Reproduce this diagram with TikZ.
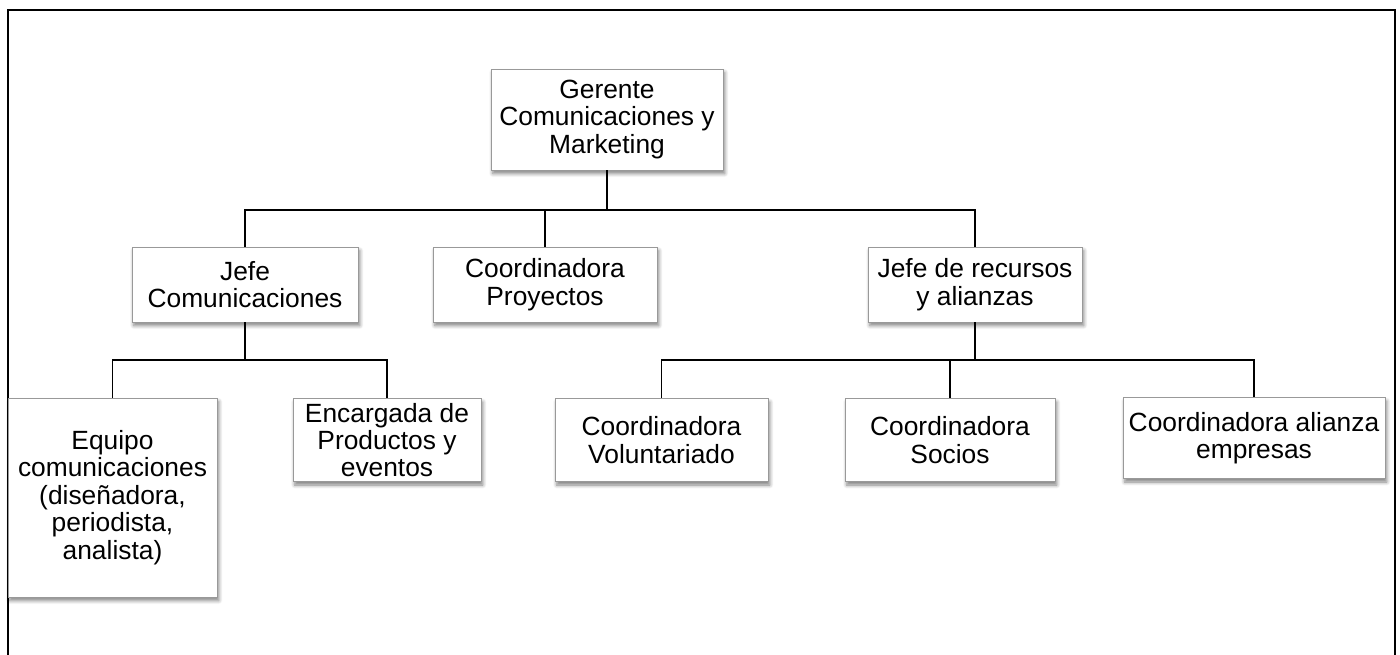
\documentclass[tikz,border=0pt]{standalone}
\usepackage{fontspec}
\setmainfont{Liberation Sans}
\usepackage{tikz}
\usetikzlibrary{shadows.blur}
\tikzset{
	cargo/.style={draw=gray!80, line width=0.5pt, fill=white, align=center, inner sep=1pt,
		font=\fontsize{15}{15.6}\selectfont,
		blur shadow={shadow xshift=1pt, shadow yshift=-2pt, shadow blur steps=6, shadow opacity=50}},
	linea/.style={draw=black, line width=1.1pt}
}

\begin{document}
\begin{tikzpicture}[x=0.02cm, y=-0.02cm]
	\useasboundingbox (0,0) rectangle (1400,654);
	\draw[linea] (8,660) -- (8,10) -- (1395,10) -- (1395,660);
	% primer nivel
	\node[cargo, minimum width=4.64cm, minimum height=2.02cm] (gerente) at (607,119.5) {Gerente\\Comunicaciones y\\Marketing};
	% segundo nivel
	\node[cargo, minimum width=4.52cm, minimum height=1.5cm] (jefecom) at (245,284.5) {Jefe\\Comunicaciones};
	\node[cargo, minimum width=4.48cm, minimum height=1.5cm] (proyectos) at (545,284.5) {Coordinadora\\Proyectos};
	\node[cargo, minimum width=4.28cm, minimum height=1.5cm] (recursos) at (975,284.5) {Jefe de recursos\\y alianzas};
	% tercer nivel
	\node[cargo, minimum width=4.18cm, minimum height=3.98cm] (equipo) at (112.5,497.5) {Equipo\\comunicaciones\\(diseñadora,\\periodista,\\analista)};
	\node[cargo, minimum width=3.76cm, minimum height=1.66cm] (encargada) at (387,440) {Encargada de\\Productos y\\eventos};
	\node[cargo, minimum width=4.26cm, minimum height=1.66cm] (voluntariado) at (661.5,440) {Coordinadora\\Voluntariado};
	\node[cargo, minimum width=4.2cm, minimum height=1.66cm] (socios) at (950,440) {Coordinadora\\Socios};
	\node[cargo, minimum width=5.24cm, minimum height=1.62cm] (empresas) at (1254,438) {Coordinadora alianza\\empresas};
	% uniones
	\coordinate (bus1) at (607,210);
	\coordinate (bus2) at (245,360);
	\coordinate (bus3) at (975,360);
	\draw[linea] (gerente.south) -- (bus1) -| (jefecom.north);
	\draw[linea] (bus1) -| (proyectos.north);
	\draw[linea] (bus1) -| (recursos.north);
	\draw[linea] (jefecom.south) -- (bus2) -| (equipo.north);
	\draw[linea] (bus2) -| (encargada.north);
	\draw[linea] (recursos.south) -- (bus3) -| (voluntariado.north);
	\draw[linea] (bus3) -| (socios.north);
	\draw[linea] (bus3) -| (empresas.north);
\end{tikzpicture}
\end{document}
